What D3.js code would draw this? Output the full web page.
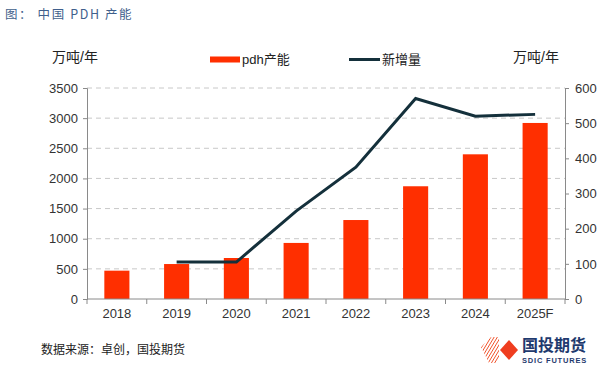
<!DOCTYPE html>
<html>
<head>
<meta charset="utf-8">
<script src="https://cdn.jsdelivr.net/npm/d3@7"></script>
<style>
  body { margin: 0; background: #fff; }
  svg { display: block; font-family: "Liberation Sans", Arial, "Noto Sans CJK SC", sans-serif; }
</style>
</head>
<body>
<script>
// data
const years = ["2018", "2019", "2020", "2021", "2022", "2023", "2024", "2025F"];
const capacity = [470, 580, 680, 930, 1310, 1870, 2400, 2920];      // pdh产能, left axis
const added = [null, 105, 105, 250, 375, 570, 520, 525];            // 新增量, right axis
const leftTicks = [0, 500, 1000, 1500, 2000, 2500, 3000, 3500];
const rightTicks = [0, 100, 200, 300, 400, 500, 600];

const w = 609, h = 371;
const m = { top: 88, right: 44, bottom: 72, left: 87 };

const svg = d3.select("body").append("svg")
  .attr("width", w)
  .attr("height", h);

// scales
const x = d3.scaleBand()
  .domain(years)
  .range([m.left, w - m.right])
  .paddingInner(0.58)
  .paddingOuter(0.29);

const yL = d3.scaleLinear().domain([0, 3500]).range([h - m.bottom, m.top]);
const yR = d3.scaleLinear().domain([0, 600]).range([h - m.bottom, m.top]);

// title
svg.append("text")
  .attr("x", 5).attr("y", 19)
  .attr("fill", "#3f5f8c")
  .style("font-size", "12.5px")
  .style("letter-spacing", "1.6px")
  .style("font-family", "'Noto Sans CJK SC', sans-serif")
  .text("图： 中国 PDH 产能");

// gridlines
svg.append("g")
  .selectAll("line")
  .data(leftTicks.filter(d => d > 0))
  .join("line")
  .attr("x1", m.left).attr("x2", w - m.right)
  .attr("y1", d => yL(d)).attr("y2", d => yL(d))
  .attr("stroke", "#c8c8c8")
  .attr("stroke-dasharray", "5,4");

// bars
svg.append("g")
  .selectAll("rect")
  .data(capacity)
  .join("rect")
  .attr("x", (d, i) => x(years[i]))
  .attr("y", d => yL(d))
  .attr("width", x.bandwidth())
  .attr("height", d => yL(0) - yL(d))
  .attr("fill", "#ff2f00");

// axes
const axisColor = "#8a8a8a";
const leftAxis = svg.append("g")
  .attr("transform", "translate(" + m.left + ",0)")
  .call(d3.axisLeft(yL).tickValues(leftTicks).tickFormat(d3.format("d")).tickSize(4).tickPadding(5));

const rightAxis = svg.append("g")
  .attr("transform", "translate(" + (w - m.right) + ",0)")
  .call(d3.axisRight(yR).tickValues(rightTicks).tickFormat(d3.format("d")).tickSize(4).tickPadding(6));

// x axis: ticks between categories
const xAxis = svg.append("g")
  .attr("transform", "translate(0," + (h - m.bottom) + ")");
xAxis.append("line")
  .attr("x1", m.left).attr("x2", w - m.right)
  .attr("stroke", axisColor);
const step = x.step();
xAxis.selectAll(".tk")
  .data(d3.range(years.length + 1))
  .join("line")
  .attr("class", "tk")
  .attr("x1", i => m.left + i * step).attr("x2", i => m.left + i * step)
  .attr("y1", 0).attr("y2", 5)
  .attr("stroke", axisColor);
xAxis.selectAll("text")
  .data(years)
  .join("text")
  .attr("x", d => x(d) + x.bandwidth() / 2)
  .attr("y", 19)
  .attr("text-anchor", "middle")
  .attr("fill", "#333")
  .style("font-size", "13px")
  .text(d => d);

[leftAxis, rightAxis].forEach(a => {
  a.select(".domain").attr("stroke", axisColor);
  a.selectAll(".tick line").attr("stroke", axisColor);
  a.selectAll(".tick text").attr("fill", "#333").style("font-size", "13px")
    .style("font-family", "'Liberation Sans', Arial, sans-serif");
});

// line
const line = d3.line()
  .defined(d => d != null)
  .x((d, i) => x(years[i]) + x.bandwidth() / 2)
  .y(d => yR(d));

svg.append("path")
  .datum(added)
  .attr("d", line)
  .attr("fill", "none")
  .attr("stroke", "#14303b")
  .attr("stroke-width", 3);

// axis titles
svg.append("text")
  .attr("x", 52).attr("y", 62)
  .attr("fill", "#222")
  .style("font-size", "14px")
  .text("万吨/年");
svg.append("text")
  .attr("x", 513).attr("y", 62)
  .attr("fill", "#222")
  .style("font-size", "14px")
  .text("万吨/年");

// legend
svg.append("rect")
  .attr("x", 210).attr("y", 56.5)
  .attr("width", 30).attr("height", 6)
  .attr("fill", "#ff2f00");
svg.append("text")
  .attr("x", 242).attr("y", 64)
  .attr("fill", "#222")
  .style("font-size", "13px")
  .text("pdh产能");
svg.append("line")
  .attr("x1", 349).attr("x2", 380)
  .attr("y1", 59.5).attr("y2", 59.5)
  .attr("stroke", "#14303b")
  .attr("stroke-width", 3);
svg.append("text")
  .attr("x", 382).attr("y", 64)
  .attr("fill", "#222")
  .style("font-size", "13px")
  .text("新增量");

// source
svg.append("text")
  .attr("x", 41).attr("y", 354)
  .attr("fill", "#222")
  .style("font-size", "12px")
  .text("数据来源：卓创，国投期货");

// logo
const logo = svg.append("g").attr("transform", "translate(481,337)");
const clipId = "stripeClip";
logo.append("clipPath").attr("id", clipId)
  .append("path").attr("d", "M0,10 L10,0 L18,0 L18,26 L8,26 Z");
const stripes = logo.append("g").attr("clip-path", "url(#" + clipId + ")");
d3.range(8).forEach(k => {
  stripes.append("line")
    .attr("x1", -10 + k * 3.2).attr("y1", 28)
    .attr("x2", 8 + k * 3.2).attr("y2", -2)
    .attr("stroke", "#f0542d").attr("stroke-width", 1);
});
logo.append("path")
  .attr("d", "M19,13 L28,3 L37,13 L28,23 Z")
  .attr("fill", "#ef3d1f");
logo.append("text")
  .attr("x", 41).attr("y", 14)
  .attr("fill", "#1f3a6e")
  .style("font-size", "16px")
  .style("font-weight", "bold")
  .style("font-family", "'Noto Sans CJK SC', sans-serif")
  .text("国投期货");
logo.append("text")
  .attr("x", 41).attr("y", 26)
  .attr("fill", "#1f3a6e")
  .style("font-size", "7.5px")
  .style("font-weight", "bold")
  .style("letter-spacing", "0.8px")
  .text("SDIC FUTURES");
</script>
</body>
</html>
